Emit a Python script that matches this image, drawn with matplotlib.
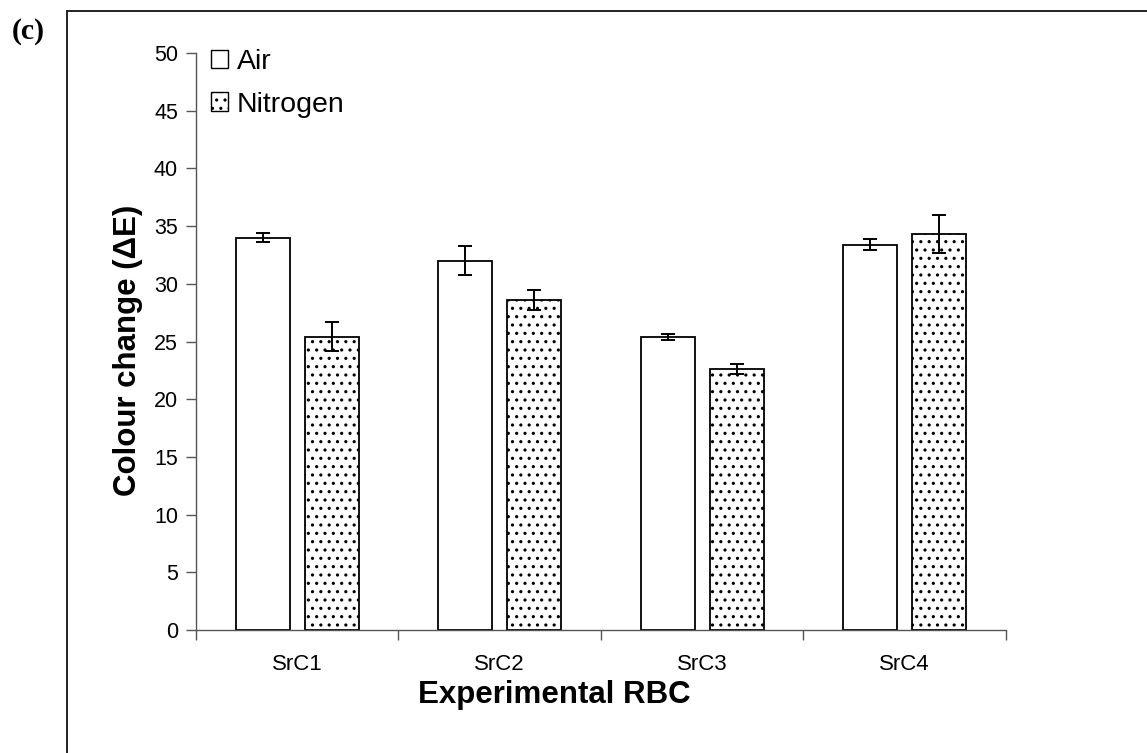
import numpy as np
import matplotlib
matplotlib.use("Agg")
from matplotlib import pyplot as plt
from matplotlib.lines import Line2D
from matplotlib.patches import Patch

categories = ["SrC1", "SrC2", "SrC3", "SrC4"]
air = [34.0, 32.0, 25.4, 33.4]
air_err = [0.4, 1.25, 0.25, 0.45]
nitrogen = [25.4, 28.6, 22.6, 34.35]
nitrogen_err = [1.25, 0.9, 0.45, 1.65]
yticks = list(range(0, 51, 5))

plt.rcParams["font.family"] = ["Liberation Sans", "DejaVu Sans"]
plt.rcParams["hatch.linewidth"] = 1.1
plt.rcParams["hatch.color"] = "#4a4a4a"

fig = plt.figure(figsize=(11.47, 7.53), dpi=100)
ax = fig.add_axes([0.1709, 0.1633, 0.877 - 0.1709, 0.9296 - 0.1633])

x = np.arange(len(categories))
width = 0.267
offset = 0.171
err_kw = dict(ecolor="black", capsize=5, elinewidth=1.4, capthick=1.4)

ax.bar(x - offset, air, width, color="white", edgecolor="black", linewidth=1.3,
       yerr=air_err, error_kw=err_kw, label="Air")
ax.bar(x + offset, nitrogen, width, color="white", edgecolor="black", linewidth=1.3,
       hatch="..", yerr=nitrogen_err, error_kw=err_kw, label="Nitrogen")

ax.set_xlim(-0.5, len(categories) - 0.5)
ax.set_ylim(0, 50)
ax.set_yticks(yticks)
ax.set_yticklabels([str(t) for t in yticks], fontsize=15.5)

# category labels centred, ticks on the group boundaries
ax.set_xticks(np.arange(-0.5, len(categories), 1.0))
ax.set_xticklabels([])
ax.set_xticks(x, minor=True)
ax.set_xticklabels(categories, minor=True, fontsize=16)
ax.tick_params(axis="x", which="minor", length=0, pad=17)
ax.tick_params(axis="x", which="major", length=7, width=1, color="#555555")
ax.tick_params(axis="y", length=7, width=1, color="#555555", pad=6)

for side in ["top", "right"]:
    ax.spines[side].set_visible(False)
for side in ["left", "bottom"]:
    ax.spines[side].set_color("#555555")
    ax.spines[side].set_linewidth(1)

ax.set_ylabel("Colour change (\u0394E)", fontsize=22.5, fontweight="bold")
ax.set_xlabel("Experimental RBC", fontsize=22.5, fontweight="bold")
ax.yaxis.set_label_coords(-0.066, 0.484)
ax.xaxis.set_label_coords(0.443, -0.087)

handles = [
    Patch(facecolor="white", edgecolor="black", linewidth=1.0),
    Patch(facecolor="white", edgecolor="black", linewidth=1.0, hatch=".."),
]
ax.legend(handles, ["Air", "Nitrogen"], loc="upper left",
          bbox_to_anchor=(211 / 1147, 1 - 49 / 753), bbox_transform=fig.transFigure,
          frameon=False, fontsize=20.5, handlelength=0.6, handleheight=0.6,
          handletextpad=0.3, labelspacing=0.58, borderaxespad=0, borderpad=0)

# outer frame around the panel (left and top edges visible)
fx = 67 / 1147
fy = 1 - 11 / 753
fig.add_artist(Line2D([fx, fx], [0, fy], color="#222222", lw=1.4, transform=fig.transFigure))
fig.add_artist(Line2D([fx, 1], [fy, fy], color="#222222", lw=1.4, transform=fig.transFigure))

fig.text(0.0105, 0.958, "(c)", fontsize=21.5, fontweight="bold", family="Liberation Serif",
         va="center", ha="left")

fig.savefig("out.png", dpi=100)
